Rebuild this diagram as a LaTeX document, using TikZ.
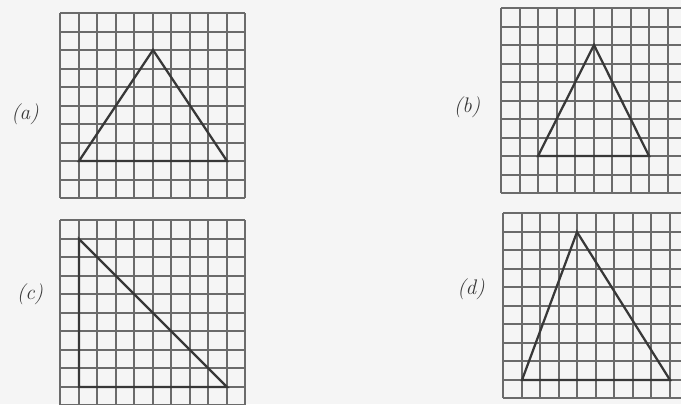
\documentclass[tikz,border=0pt]{standalone}
% grid position of square #1, snapped to a whole pixel
\newcommand{\gp}[1]{round(#1*18.5)}
\begin{document}
\begin{tikzpicture}[x=0.025cm, y=-0.025cm,
    sheet/.style={draw=black!58, line width=1pt},
    tri/.style={draw=black!78, line width=1.6pt, line join=miter},
    lbl/.style={font=\fontsize{15}{18}\selectfont\itshape, text=black!78}]
    % Page: 681 x 404 px, 1 px = 0.025 cm, y runs downward
    % Each sheet: 10 x 10 squares of 18.5 px

    \useasboundingbox (0,0) rectangle (681,404);
    \fill[black!4] (0,0) rectangle (681,404);
    \clip (0,0) rectangle (681,404);

    % (a)  top-left corner at (60,13)
    \node[lbl] (lbla) at (25,114) {(a)};
    \begin{scope}[shift={(60,13)}]
      \foreach \i in {0,...,10} {
        \pgfmathsetmacro{\p}{\gp{\i}}
        \draw[sheet] (\p,0) -- (\p,185);
        \draw[sheet] (0,\p) -- (185,\p);
      }
      \coordinate (a1) at ({\gp{1}},{\gp{8}});
      \coordinate (a2) at ({\gp{5}},{\gp{2}});
      \coordinate (a3) at ({\gp{9}},{\gp{8}});
      \draw[tri] (a1) -- (a2) -- (a3) -- cycle;
    \end{scope}

    % (b)  top-left corner at (501,8)
    \node[lbl] (lblb) at (467,107) {(b)};
    \begin{scope}[shift={(501,8)}]
      \foreach \i in {0,...,10} {
        \pgfmathsetmacro{\p}{\gp{\i}}
        \draw[sheet] (\p,0) -- (\p,185);
        \draw[sheet] (0,\p) -- (185,\p);
      }
      \coordinate (b1) at ({\gp{2}},{\gp{8}});
      \coordinate (b2) at ({\gp{5}},{\gp{2}});
      \coordinate (b3) at ({\gp{8}},{\gp{8}});
      \draw[tri] (b1) -- (b2) -- (b3) -- cycle;
    \end{scope}

    % (c)  top-left corner at (60,220)
    \node[lbl] (lblc) at (30,294) {(c)};
    \begin{scope}[shift={(60,220)}]
      \foreach \i in {0,...,10} {
        \pgfmathsetmacro{\p}{\gp{\i}}
        \draw[sheet] (\p,0) -- (\p,185);
        \draw[sheet] (0,\p) -- (185,\p);
      }
      \coordinate (c1) at ({\gp{1}},{\gp{1}});
      \coordinate (c2) at ({\gp{1}},{\gp{9}});
      \coordinate (c3) at ({\gp{9}},{\gp{9}});
      \draw[tri] (c1) -- (c2) -- (c3) -- cycle;
    \end{scope}

    % (d)  top-left corner at (503,213)
    \node[lbl] (lbld) at (471,289) {(d)};
    \begin{scope}[shift={(503,213)}]
      \foreach \i in {0,...,10} {
        \pgfmathsetmacro{\p}{\gp{\i}}
        \draw[sheet] (\p,0) -- (\p,185);
        \draw[sheet] (0,\p) -- (185,\p);
      }
      \coordinate (d1) at ({\gp{1}},{\gp{9}});
      \coordinate (d2) at ({\gp{4}},{\gp{1}});
      \coordinate (d3) at ({\gp{9}},{\gp{9}});
      \draw[tri] (d1) -- (d2) -- (d3) -- cycle;
    \end{scope}

  \end{tikzpicture}
\end{document}
